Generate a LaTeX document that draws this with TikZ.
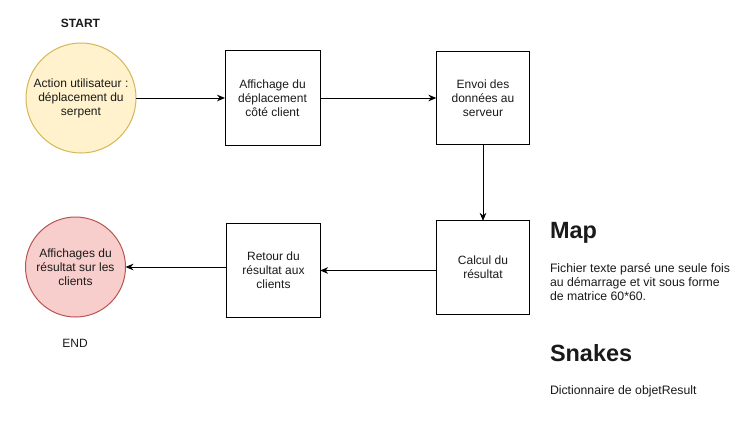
\documentclass[tikz,border=0pt]{standalone}
\usepackage{fontspec}
\setmainfont{Liberation Sans}
\usetikzlibrary{arrows.meta}
\definecolor{yfill}{HTML}{FFF2CC}
\definecolor{ydraw}{HTML}{D6B656}
\definecolor{rfill}{HTML}{F8CECC}
\definecolor{rdraw}{HTML}{B85450}
\definecolor{txt}{HTML}{1A1A1A}
\begin{document}
\begin{tikzpicture}[x=0.75pt,y=-0.75pt,
  every node/.style={inner sep=0pt,outer sep=0pt,text=txt},
  txt/.style={font=\fontsize{9}{10.5}\selectfont,align=center},
  stepbox/.style={txt,draw=black,line width=0.75pt,minimum width=70pt,minimum height=70pt},
  startc/.style={txt,circle,draw=ydraw,fill=yfill,line width=0.75pt,minimum size=82.5pt},
  endc/.style={txt,circle,draw=rdraw,fill=rfill,line width=0.75pt,minimum size=75pt},
  conn/.style={line width=0.75pt,-{Stealth[length=6pt,width=5pt]}},
  label/.style={font=\fontsize{9}{10.5}\selectfont},
  head/.style={font=\fontsize{17.6}{20}\selectfont\bfseries,anchor=west},
  para/.style={font=\fontsize{9.2}{10.65}\selectfont,align=left,anchor=north west}]
\useasboundingbox (0,0) rectangle (754,422);
\fill[white] (0,0) rectangle (754,422);

\node[label,font=\fontsize{9}{10.5}\selectfont\bfseries] (startlbl) at (80.5,23.5) {START};
\node[label] (endlbl) at (75,343.5) {END};

\node[startc] (start) at (81,98) {Action utilisateur :\\déplacement du\\serpent};
\node[stepbox,minimum width=71.25pt,minimum height=71.25pt] (aff) at (272.5,98) {Affichage du\\déplacement\\côté client};
\node[stepbox] (envoi) at (483,98) {Envoi des\\données au\\serveur};
\node[stepbox] (calc) at (483,267.5) {Calcul du\\résultat};
\node[stepbox] (ret) at (273.5,270.5) {Retour du\\résultat aux\\clients};
\node[endc] (end) at (75.5,267) {Affichages du\\résultat sur les\\clients};

\draw[conn] (start.east) -- (aff.west|-start.east);
\draw[conn] (aff.east) -- (envoi.west|-aff.east);
\draw[conn] (envoi.south) -- (calc.north);
\draw[conn] (calc.west|-ret.east) -- (ret.east);
\draw[conn] (ret.west|-end.east) -- (end.east);

\node[head] (map) at (550,233) {Map};
\node[para] (mapdesc) at (550,263.5) {Fichier texte parsé une seule fois\\au démarrage et vit sous forme\\de matrice 60*60.};
\node[head] (snakes) at (550,353) {Snakes};
\node[para] (snakesdesc) at (550,385.5) {Dictionnaire de objetResult};
\end{tikzpicture}
\end{document}
